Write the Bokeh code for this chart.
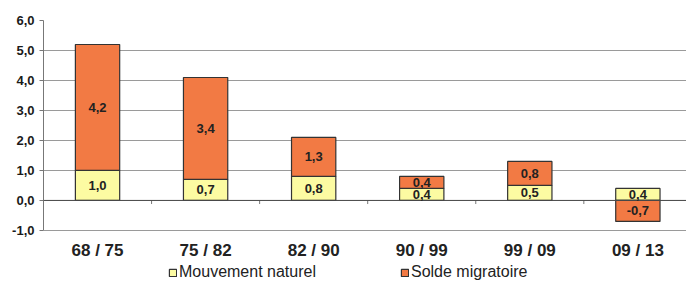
from bokeh.plotting import figure
from bokeh.models import (ColumnDataSource, Range1d, FixedTicker, Span, Legend, LegendItem, LabelSet)
from bokeh.core.properties import value
from bokeh.embed import file_html
from bokeh.resources import INLINE

# ---- data ----
periods = ["68 / 75", "75 / 82", "82 / 90", "90 / 99", "99 / 09", "09 / 13"]
mouvement_naturel = [1.0, 0.7, 0.8, 0.4, 0.5, 0.4]
solde_migratoire = [4.2, 3.4, 1.3, 0.4, 0.8, -0.7]
y_ticks = [-1, 0, 1, 2, 3, 4, 5, 6]
y_tick_labels = ["-1,0", "0,0", "1,0", "2,0", "3,0", "4,0", "5,0", "6,0"]

FONT = "Liberation Sans"
ORANGE = "#F27A44"
YELLOW = "#FCFBA2"
EDGE = "#333333"

n = len(periods)
xs = list(range(n))

def fmt(v):
    return ("%.1f" % v).replace(".", ",")

nat_bottom = [0.0] * n
nat_top = list(mouvement_naturel)
mig_bottom = [nv if mv >= 0 else 0.0 for nv, mv in zip(mouvement_naturel, solde_migratoire)]
mig_top = [nv + mv if mv >= 0 else mv for nv, mv in zip(mouvement_naturel, solde_migratoire)]

nat_src = ColumnDataSource(dict(
    x=xs, bottom=nat_bottom, top=nat_top,
    ymid=[(b + t) / 2 for b, t in zip(nat_bottom, nat_top)],
    label=[fmt(v) for v in mouvement_naturel]))
mig_src = ColumnDataSource(dict(
    x=xs, bottom=mig_bottom, top=mig_top,
    ymid=[(b + t) / 2 for b, t in zip(mig_bottom, mig_top)],
    label=[fmt(v) for v in solde_migratoire]))
cat_src = ColumnDataSource(dict(x=xs, y=[min(y_ticks)] * n, label=periods))

y_min, y_max = min(y_ticks), max(y_ticks)
p = figure(width=686, height=283, output_backend="svg", toolbar_location=None,
           x_range=Range1d(-0.5, 5.45), y_range=Range1d(y_min - 1.77, y_max),
           x_axis_location=None,
           min_border_left=43, min_border_top=20, min_border_right=0, min_border_bottom=0)
p.outline_line_color = None
p.background_fill_color = "white"
p.border_fill_color = "white"

# grid and y axis
p.xgrid.grid_line_color = None
p.ygrid.grid_line_color = "#9a9a9a"
p.ygrid.grid_line_width = 1
p.yaxis.ticker = FixedTicker(ticks=y_ticks)
p.ygrid.ticker = FixedTicker(ticks=y_ticks)
p.yaxis.bounds = (y_min, y_max)
p.yaxis.major_label_overrides = {t: l for t, l in zip(y_ticks, y_tick_labels)}
p.yaxis.major_label_text_font = FONT
p.yaxis.major_label_text_font_style = "bold"
p.yaxis.major_label_text_font_size = "13px"
p.yaxis.major_label_text_color = "#1a1a1a"
p.yaxis.axis_line_color = "#777777"
p.yaxis.major_tick_line_color = "#777777"
p.yaxis.major_tick_out = 4
p.yaxis.major_tick_in = 0
p.yaxis.minor_tick_line_color = None
p.yaxis.major_label_standoff = 5

# zero line and category boundary ticks
p.add_layout(Span(location=0, dimension="width", line_color="#4a4a4a", line_width=1))
boundaries = [i + 0.5 for i in range(n - 1)]
p.segment(x0=boundaries, x1=boundaries, y0=[0] * len(boundaries), y1=[-0.12] * len(boundaries),
          line_color="#777777", line_width=1)

bw = 0.41
r_nat = p.vbar(x="x", bottom="bottom", top="top", width=bw, source=nat_src,
               fill_color=YELLOW, line_color=EDGE, line_width=1.2)
r_mig = p.vbar(x="x", bottom="bottom", top="top", width=bw, source=mig_src,
               fill_color=ORANGE, line_color=EDGE, line_width=1.2)

for src in (nat_src, mig_src):
    p.add_layout(LabelSet(x="x", y="ymid", text="label", source=src,
                          text_align="center", text_baseline="middle",
                          text_font=value(FONT), text_font_style="bold",
                          text_font_size="13px", text_color="#222222"))

# category labels under the plot area
p.add_layout(LabelSet(x="x", y="y", text="label", source=cat_src,
                      text_align="center", text_baseline="middle", y_offset=-20,
                      text_font=value(FONT), text_font_style="bold",
                      text_font_size="17px", text_color="#222222"))

legend = Legend(items=[LegendItem(label="Mouvement naturel", renderers=[r_nat]),
                       LegendItem(label="Solde migratoire", renderers=[r_mig])],
                orientation="horizontal", location=(125, 2),
                label_text_font=FONT, label_text_font_size="16px", label_text_color="#222222",
                glyph_width=9, glyph_height=9, label_standoff=2, spacing=84,
                padding=0, margin=0, border_line_color=None, background_fill_alpha=0,
                label_height=16)
p.add_layout(legend)

open("out.html", "w").write(file_html(p, INLINE))
